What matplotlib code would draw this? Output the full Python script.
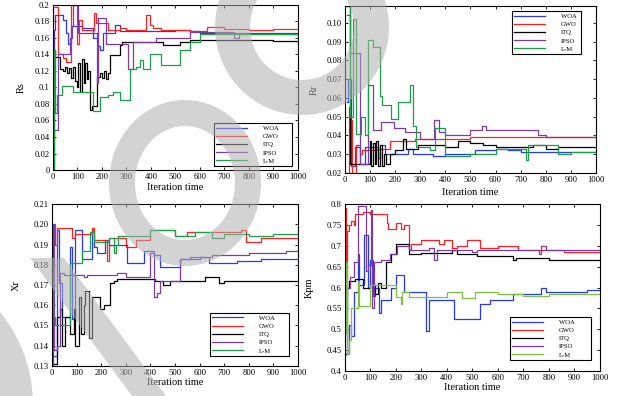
import numpy as np
import matplotlib
matplotlib.use("Agg")
import matplotlib.pyplot as plt
from matplotlib.patches import Annulus, Polygon

plt.rcParams["font.family"] = ["Liberation Serif", "DejaVu Serif"]

# ---- data: (iteration, value) breakpoints ----
names = ["WOA", "GWO", "ITQ", "IPSO", "L-M"]

# Rs
rs_woa_it = [0, 2, 8, 42, 55, 62, 75, 120, 165, 185, 192, 205, 252, 273, 500, 560, 600, 1000]
rs_woa = [0.10, 0.17, 0.188, 0.182, 0.166, 0.153, 0.174, 0.172, 0.16, 0.15, 0.145, 0.166, 0.176, 0.168, 0.17, 0.168, 0.166, 0.166]
rs_gwo_it = [0, 1, 15, 22, 40, 55, 72, 97, 105, 117, 168, 175, 225, 275, 300, 380, 395, 410, 440, 560, 630, 700, 800, 900, 1000]
rs_gwo = [0.07, 0.198, 0.198, 0.141, 0.136, 0.131, 0.2, 0.153, 0.182, 0.17, 0.19, 0.178, 0.17, 0.172, 0.17, 0.188, 0.176, 0.172, 0.17, 0.168, 0.173, 0.171, 0.17, 0.171, 0.171]
rs_itq_it = [0, 2, 8, 28, 42, 50, 58, 66, 75, 83, 90, 97, 103, 110, 117, 125, 132, 137, 143, 150, 158, 178, 192, 200, 210, 218, 226, 233, 273, 280, 450, 520, 560, 620, 700, 800, 900, 1000]
rs_itq = [0.0, 0.145, 0.137, 0.123, 0.12, 0.125, 0.118, 0.124, 0.112, 0.125, 0.108, 0.1, 0.13, 0.095, 0.135, 0.105, 0.13, 0.11, 0.12, 0.073, 0.077, 0.113, 0.117, 0.112, 0.12, 0.11, 0.117, 0.139, 0.152, 0.155, 0.152, 0.155, 0.158, 0.157, 0.158, 0.157, 0.156, 0.155]
rs_ipso_it = [0, 12, 22, 70, 76, 83, 103, 178, 185, 215, 307, 328, 420, 560, 740, 760, 1000]
rs_ipso = [0.048, 0.048, 0.14, 0.16, 0.175, 0.2, 0.166, 0.105, 0.184, 0.153, 0.123, 0.155, 0.16, 0.167, 0.16, 0.165, 0.165]
rs_lm_it = [0, 3, 8, 15, 35, 83, 165, 192, 226, 246, 273, 314, 340, 355, 369, 396, 440, 520, 560, 600, 1000]
rs_lm = [0.0, 0.145, 0.069, 0.091, 0.102, 0.095, 0.071, 0.089, 0.091, 0.095, 0.085, 0.123, 0.125, 0.133, 0.123, 0.141, 0.127, 0.145, 0.155, 0.165, 0.165]

# Rr
rr_woa_it = [8, 14, 25, 40, 60, 80, 130, 140, 160, 250, 270, 350, 400, 520, 600, 650, 700, 900, 1000]
rr_woa = [0.058, 0.07, 0.024, 0.034, 0.025, 0.034, 0.028, 0.035, 0.030, 0.033, 0.030, 0.029, 0.030, 0.032, 0.033, 0.032, 0.031, 0.031, 0.031]
rr_gwo_it = [0, 15, 20, 27, 45, 60, 68, 130, 180, 280, 500, 800, 1000]
rr_gwo = [0.02, 0.055, 0.048, 0.02, 0.035, 0.03, 0.032, 0.033, 0.037, 0.038, 0.039, 0.039, 0.039]
rr_itq_it = [10, 20, 60, 100, 105, 112, 118, 125, 132, 140, 148, 155, 165, 180, 200, 230, 245, 290, 400, 450, 500, 550, 600, 750, 800, 850, 1000]
rr_itq = [0.109, 0.025, 0.025, 0.037, 0.024, 0.036, 0.025, 0.037, 0.024, 0.035, 0.024, 0.03, 0.025, 0.03, 0.032, 0.038, 0.033, 0.035, 0.034, 0.037, 0.036, 0.035, 0.034, 0.035, 0.033, 0.034, 0.034]
rr_ipso_it = [10, 20, 60, 90, 110, 145, 195, 240, 300, 355, 375, 400, 500, 545, 560, 770, 800, 1000]
rr_ipso = [0.104, 0.084, 0.025, 0.067, 0.043, 0.047, 0.044, 0.042, 0.038, 0.048, 0.042, 0.040, 0.043, 0.045, 0.043, 0.040, 0.039, 0.039]
rr_lm_it = [15, 20, 33, 45, 66, 80, 93, 113, 140, 146, 185, 212, 258, 272, 285, 338, 360, 400, 500, 600, 720, 730, 850, 900, 1000]
rr_lm = [0.109, 0.05, 0.102, 0.041, 0.05, 0.04, 0.091, 0.087, 0.061, 0.056, 0.049, 0.058, 0.067, 0.045, 0.034, 0.032, 0.044, 0.029, 0.030, 0.033, 0.027, 0.035, 0.030, 0.031, 0.031]

# Xr
xr_woa_it = [0, 3, 13, 20, 27, 41, 75, 81, 95, 122, 163, 170, 183, 217, 230, 305, 318, 373, 413, 440, 520, 600, 640, 750, 850, 1000]
xr_woa = [0.2, 0.135, 0.135, 0.197, 0.171, 0.154, 0.189, 0.153, 0.197, 0.183, 0.197, 0.189, 0.186, 0.192, 0.19, 0.181, 0.181, 0.187, 0.185, 0.179, 0.183, 0.184, 0.181, 0.182, 0.183, 0.183]
xr_gwo_it = [0, 5, 13, 20, 81, 95, 163, 169, 222, 230, 300, 340, 400, 500, 550, 770, 790, 850, 1000]
xr_gwo = [0.14, 0.2, 0.19, 0.198, 0.193, 0.195, 0.198, 0.192, 0.182, 0.193, 0.189, 0.192, 0.197, 0.194, 0.196, 0.197, 0.191, 0.193, 0.193]
xr_itq_it = [0, 14, 20, 34, 41, 54, 75, 88, 95, 108, 118, 128, 135, 149, 163, 196, 210, 237, 250, 264, 420, 450, 480, 620, 680, 700, 1000]
xr_itq = [0.131, 0.131, 0.154, 0.158, 0.14, 0.154, 0.146, 0.158, 0.14, 0.164, 0.146, 0.16, 0.167, 0.144, 0.164, 0.158, 0.16, 0.171, 0.172, 0.173, 0.172, 0.17, 0.172, 0.174, 0.171, 0.172, 0.172]
xr_ipso_it = [0, 5, 10, 20, 34, 47, 129, 142, 264, 300, 400, 413, 427, 440, 520, 560, 650, 800, 950, 1000]
xr_ipso = [0.13, 0.2, 0.138, 0.14, 0.176, 0.175, 0.174, 0.175, 0.176, 0.174, 0.186, 0.164, 0.166, 0.172, 0.183, 0.184, 0.185, 0.186, 0.187, 0.187]
xr_lm_it = [0, 3, 14, 75, 95, 122, 156, 170, 230, 250, 260, 270, 400, 500, 580, 650, 700, 800, 900, 1000]
xr_lm = [0.175, 0.154, 0.15, 0.181, 0.181, 0.187, 0.196, 0.191, 0.193, 0.186, 0.19, 0.194, 0.197, 0.194, 0.196, 0.193, 0.195, 0.194, 0.195, 0.195]

# Kpm
kp_woa_it = [0, 17, 24, 37, 50, 56, 76, 89, 100, 110, 120, 135, 142, 180, 200, 230, 320, 330, 430, 530, 570, 660, 770, 790, 850, 950, 1000]
kp_woa = [0.44, 0.51, 0.485, 0.59, 0.68, 0.605, 0.725, 0.6, 0.665, 0.58, 0.6, 0.54, 0.57, 0.6, 0.63, 0.59, 0.495, 0.57, 0.525, 0.56, 0.57, 0.585, 0.6, 0.59, 0.59, 0.595, 0.595]
kp_gwo_it = [0, 5, 10, 15, 25, 35, 40, 70, 100, 165, 170, 200, 220, 230, 250, 260, 300, 370, 390, 420, 440, 480, 530, 600, 680, 860, 1000]
kp_gwo = [0.79, 0.58, 0.735, 0.75, 0.76, 0.75, 0.775, 0.78, 0.775, 0.755, 0.74, 0.755, 0.74, 0.75, 0.69, 0.705, 0.715, 0.705, 0.715, 0.695, 0.7, 0.715, 0.695, 0.7, 0.69, 0.685, 0.685]
kp_itq_it = [0, 10, 15, 40, 70, 100, 120, 130, 140, 160, 180, 200, 250, 300, 420, 440, 520, 660, 670, 800, 1000]
kp_itq = [0.44, 0.6, 0.615, 0.62, 0.6, 0.605, 0.585, 0.61, 0.6, 0.66, 0.68, 0.705, 0.68, 0.683, 0.69, 0.68, 0.675, 0.665, 0.67, 0.667, 0.665]
kp_ipso_it = [0, 20, 37, 50, 82, 89, 102, 108, 115, 140, 175, 205, 250, 330, 350, 360, 500, 520, 760, 770, 790, 1000]
kp_ipso = [0.6, 0.625, 0.66, 0.795, 0.64, 0.655, 0.785, 0.55, 0.66, 0.665, 0.68, 0.7, 0.69, 0.695, 0.665, 0.69, 0.685, 0.69, 0.68, 0.7, 0.69, 0.69]
kp_lm_it = [0, 5, 10, 17, 24, 37, 50, 56, 100, 200, 220, 225, 250, 330, 400, 450, 460, 510, 600, 700, 800, 1000]
kp_lm = [0.49, 0.66, 0.44, 0.475, 0.55, 0.55, 0.615, 0.555, 0.605, 0.577, 0.56, 0.59, 0.578, 0.578, 0.59, 0.59, 0.575, 0.59, 0.585, 0.58, 0.585, 0.585]

# ticks / labels
it_ticks = [0, 100, 200, 300, 400, 500, 600, 700, 800, 900, 1000]
rs_ticks = [0, 0.02, 0.04, 0.06, 0.08, 0.1, 0.12, 0.14, 0.16, 0.18, 0.2]
rs_labels = ["0", "0.02", "0.04", "0.06", "0.08", "0.1", "0.12", "0.14", "0.16", "0.18", "0.2"]
rr_ticks = [0.02, 0.03, 0.04, 0.05, 0.06, 0.07, 0.08, 0.09, 0.10]
rr_labels = ["0.02", "0.03", "0.04", "0.05", "0.06", "0.07", "0.08", "0.09", "0.10"]
xr_ticks = [0.13, 0.14, 0.15, 0.16, 0.17, 0.18, 0.19, 0.20, 0.21]
xr_labels = ["0.13", "0.14", "0.15", "0.16", "0.17", "0.18", "0.19", "0.20", "0.21"]
kp_ticks = [0.4, 0.45, 0.5, 0.55, 0.6, 0.65, 0.7, 0.75, 0.8]
kp_labels = ["0.4", "0.45", "0.5", "0.55", "0.6", "0.65", "0.7", "0.75", "0.8"]

colors = ["#2538ff", "#ff1f1f", "#000000", "#7a3aa8", "#1c9e48"]
colors_kpm = ["#2538ff", "#ff1f1f", "#000000", "#7a3aa8", "#7cc142"]

fig = plt.figure(figsize=(6.26, 3.96), dpi=100)


def panel(rect, series, cols, ylim, yt, ytl, ylab, ylab_x, xlab_y, leg_box, leg_loc):
    ax = fig.add_axes(rect)
    lines = []
    for (its, vals), c, n in zip(series, cols, names):
        ln, = ax.plot(its, vals, drawstyle="steps-post", color=c, lw=0.9, label=n)
        lines.append(ln)
    ax.set_xlim(0, 1000)
    ax.set_ylim(*ylim)
    ax.set_xticks(it_ticks)
    ax.set_xticklabels([str(t) for t in it_ticks])
    ax.set_yticks(yt)
    ax.set_yticklabels(ytl)
    ax.tick_params(direction="in", top=True, right=True, length=2.5, width=0.6,
                   labelsize=6.2, pad=2.5)
    for s in ax.spines.values():
        s.set_linewidth(0.8)
    ax.set_ylabel(ylab, fontsize=7.5)
    ax.yaxis.set_label_coords(ylab_x, 0.5)
    ax.set_xlabel("Iteration time", fontsize=7.5)
    ax.xaxis.set_label_coords(0.5, xlab_y)
    leg = ax.legend(handles=lines, loc=leg_loc, bbox_to_anchor=leg_box, mode="expand",
                    fontsize=4.8, handlelength=4.6, handletextpad=2.4, borderpad=0.35,
                    labelspacing=0.38, borderaxespad=0, fancybox=False,
                    edgecolor="black", framealpha=1)
    leg.get_frame().set_linewidth(0.8)
    return ax


panel([0.0847, 0.5707, 0.391, 0.4167],
      [(rs_woa_it, rs_woa), (rs_gwo_it, rs_gwo), (rs_itq_it, rs_itq), (rs_ipso_it, rs_ipso), (rs_lm_it, rs_lm)],
      colors, (0, 0.2), rs_ticks, rs_labels, "Rs", -0.112, -0.078,
      (0.657, 0.024, 0.319, 0.309), "lower left")
panel([0.551, 0.5631, 0.401, 0.4217],
      [(rr_woa_it, rr_woa), (rr_gwo_it, rr_gwo), (rr_itq_it, rr_itq), (rr_ipso_it, rr_ipso), (rr_lm_it, rr_lm)],
      colors, (0.02, 0.109), rr_ticks, rr_labels, "Rr", -0.106, -0.088,
      (0.665, 0.671, 0.275, 0.299), "upper left")
panel([0.0831, 0.0758, 0.393, 0.409],
      [(xr_woa_it, xr_woa), (xr_gwo_it, xr_gwo), (xr_itq_it, xr_itq), (xr_ipso_it, xr_ipso), (xr_lm_it, xr_lm)],
      colors, (0.13, 0.21), xr_ticks, xr_labels, "Xr", -0.126, -0.072,
      (0.642, 0.062, 0.321, 0.308), "lower left")
panel([0.551, 0.0631, 0.407, 0.4217],
      [(kp_woa_it, kp_woa), (kp_gwo_it, kp_gwo), (kp_itq_it, kp_itq), (kp_ipso_it, kp_ipso), (kp_lm_it, kp_lm)],
      colors_kpm, (0.4, 0.8), kp_ticks, kp_labels, "Kpm", -0.122, -0.07,
      (0.647, 0.066, 0.318, 0.311), "lower left")

# grey watermark drawn over the whole page (pixel coordinates)
ov = fig.add_axes([0, 0, 1, 1], zorder=10)
ov.set_xlim(0, 626)
ov.set_ylim(396, 0)
ov.axis("off")
ov.patch.set_alpha(0)
wm = dict(color="#b0b0b0", alpha=0.55, lw=0)
ov.add_patch(Annulus((302, 27), (87, 88), 35, **wm))
ov.add_patch(Annulus((185, 183), (76, 83), 26, **wm))
ov.add_patch(Annulus((-115, 405), 148, 60, **wm))
ov.add_patch(Polygon([(30, 258), (64, 258), (166, 396), (132, 396)], closed=True, **wm))

fig.savefig("out.png", dpi=100)
